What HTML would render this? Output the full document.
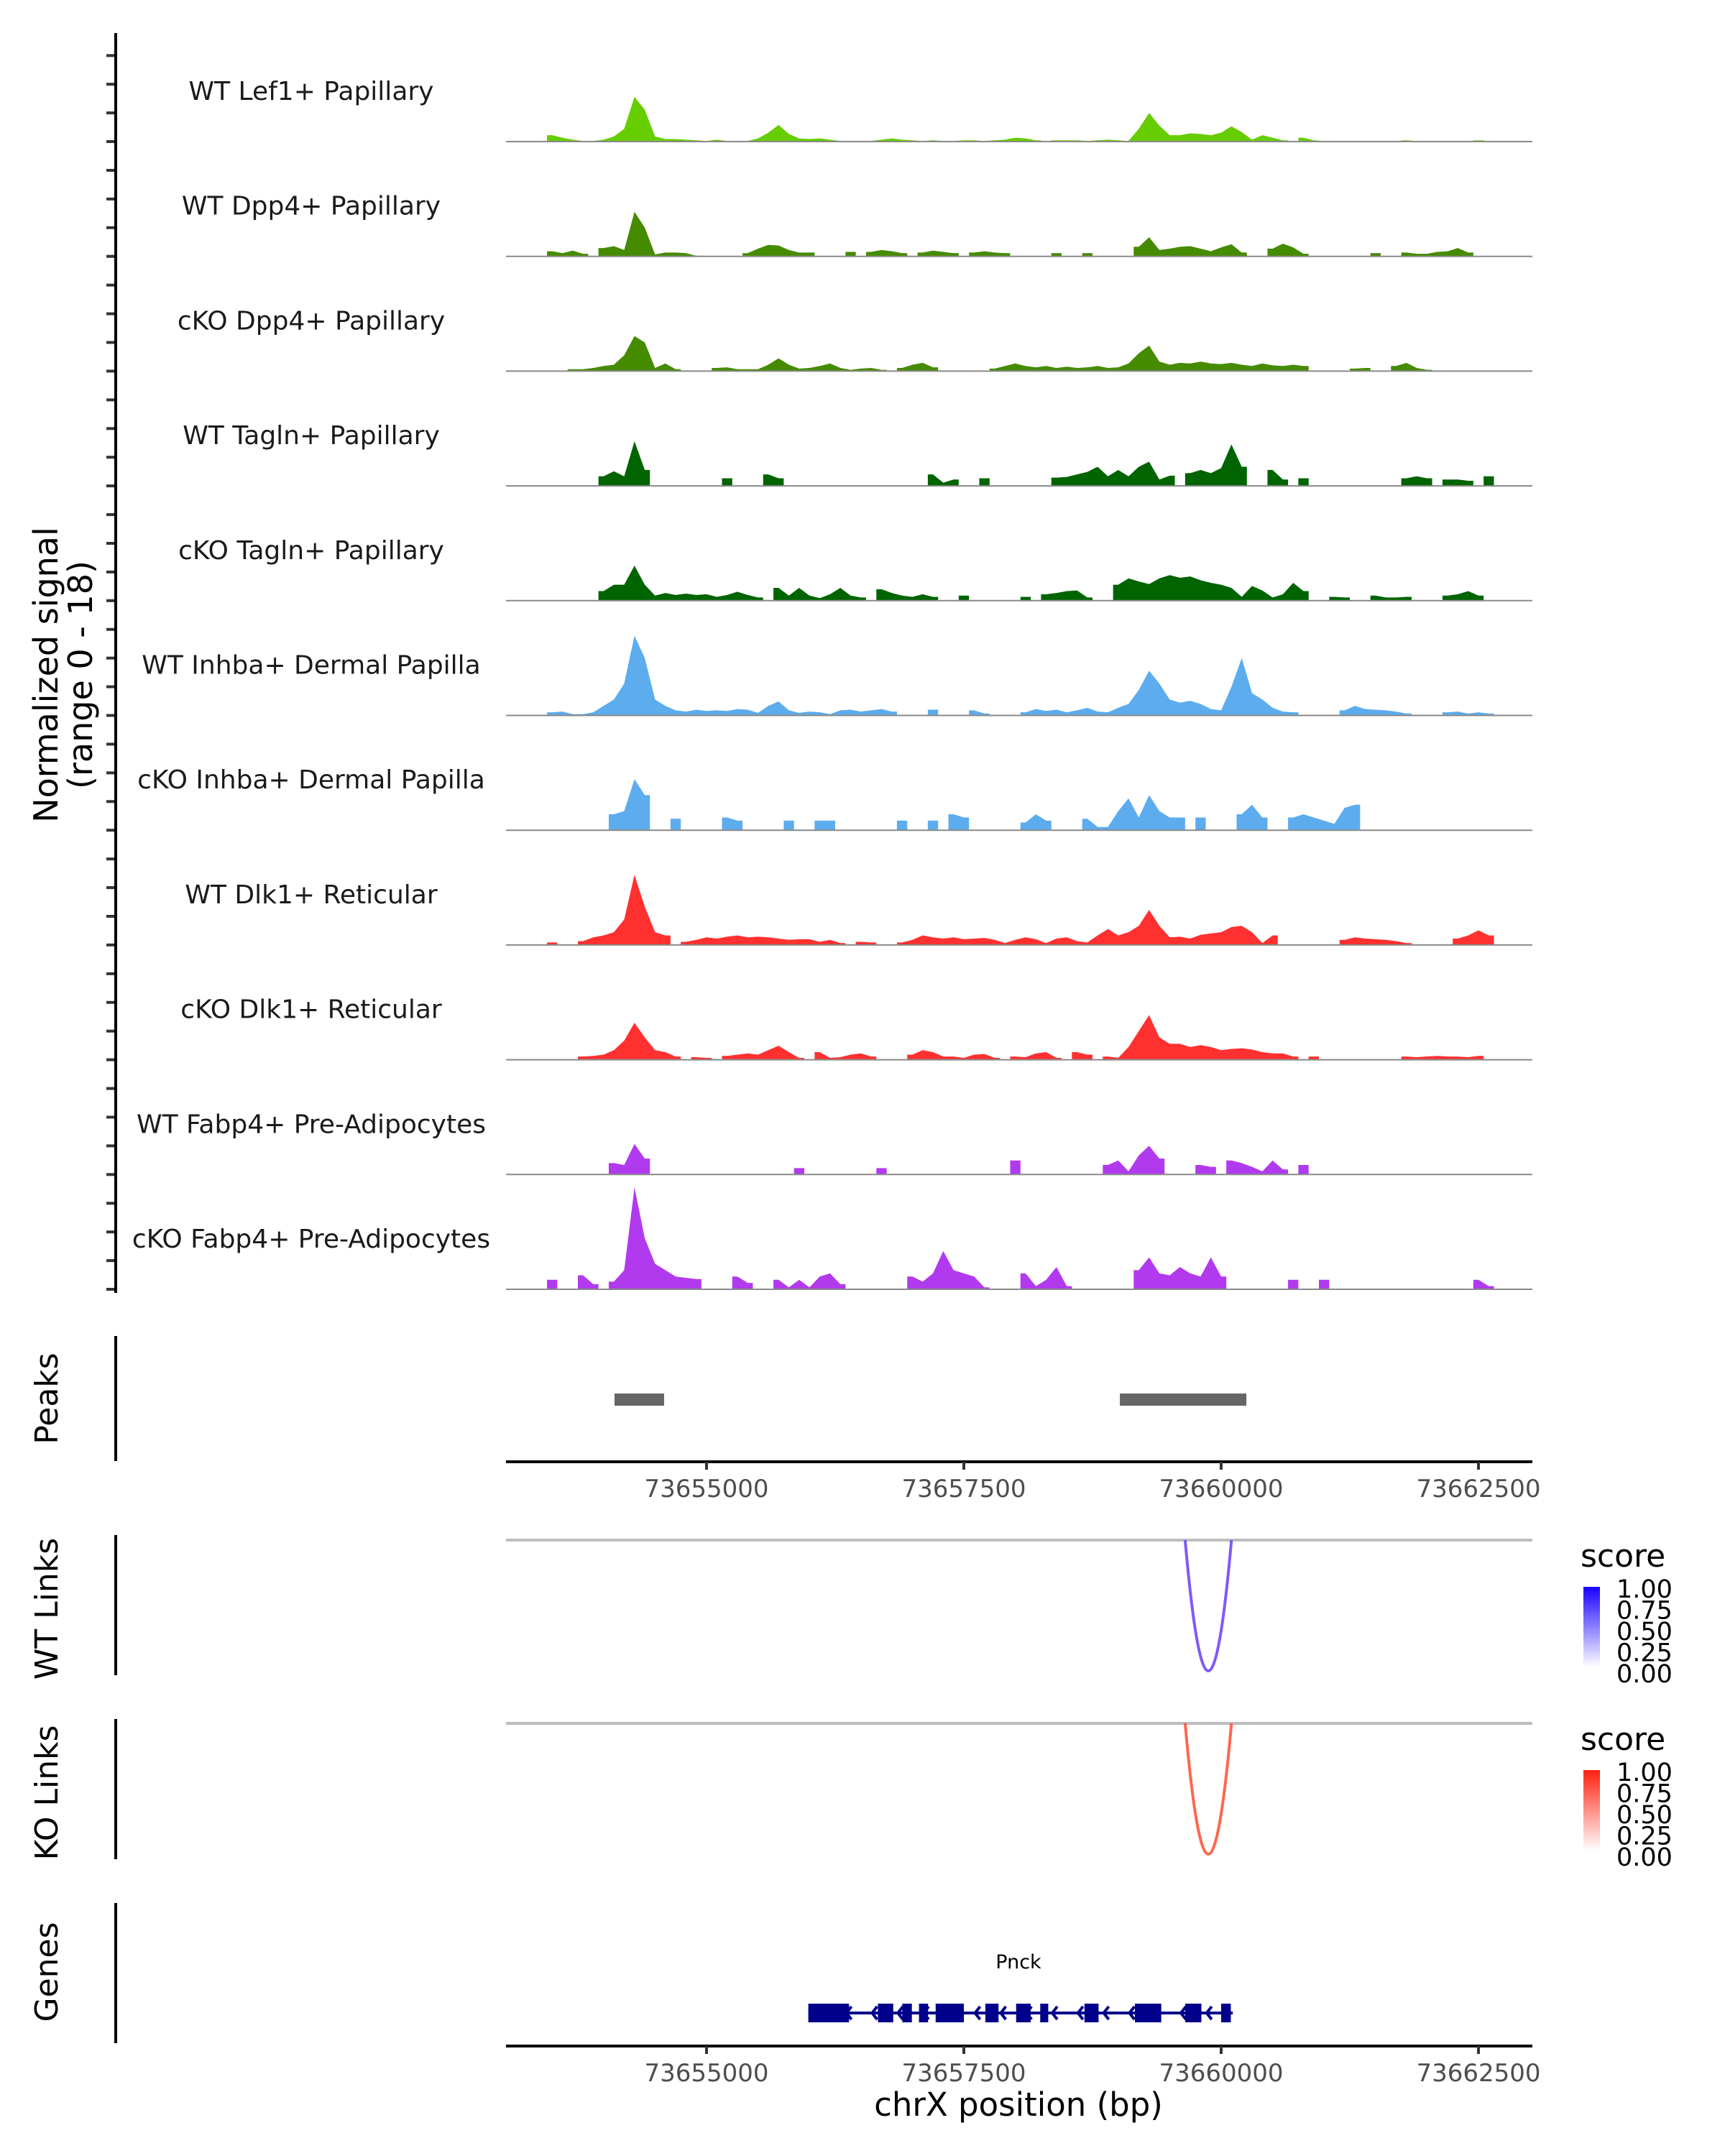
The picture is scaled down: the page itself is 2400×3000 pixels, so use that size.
<!DOCTYPE html>
<html><head><meta charset="utf-8"><style>
html,body{margin:0;padding:0;background:#fff}
svg{display:block}
text{font-family:"DejaVu Sans","Liberation Sans",sans-serif}
</style></head><body>
<svg id="chart" width="2400" height="3000" viewBox="0 0 2400 3000">
<g id="tracks"></g>
<g id="axes"></g>
</svg>
<script>
// ---------- data ----------
const binStart = 73653050;
const binSize = 100;
const trackNames = ["WT Lef1+ Papillary","WT Dpp4+ Papillary","cKO Dpp4+ Papillary","WT Tagln+ Papillary","cKO Tagln+ Papillary","WT Inhba+ Dermal Papilla","cKO Inhba+ Dermal Papilla","WT Dlk1+ Reticular","cKO Dlk1+ Reticular","WT Fabp4+ Pre-Adipocytes","cKO Fabp4+ Pre-Adipocytes"];
const trackColors = ["#66cd00","#458b00","#458b00","#006400","#006400","#5cacee","#5cacee","#ff3030","#ff3030","#b23aee","#b23aee"];
const sigLef1WT = [0,0,0,0,1.0,0.6,0.3,0.1,0.1,0.3,0.8,2.0,7,5,0.8,0.4,0.4,0.3,0.2,0.1,0.3,0.1,0,0.1,0.5,1.4,2.6,1.2,0.5,0.4,0.5,0.3,0.1,0,0,0.1,0.3,0.5,0.3,0.2,0.1,0.2,0.1,0.1,0.2,0.2,0.1,0.2,0.3,0.6,0.5,0.2,0,0.2,0.2,0.2,0.1,0.2,0.3,0.2,0.1,2.0,4.5,2.5,1.0,1.0,1.3,1.2,1.0,1.4,2.4,1.5,0.3,1.0,0.6,0.2,0,0.6,0.2,0.1,0.1,0,0,0,0,0,0,0.2,0.1,0,0,0,0,0,0.2,0,0];
const sigDpp4WT = [0,0,0,0,0.8,0.5,0.9,0.4,0,1.3,1.6,1.0,7.0,4.5,0.3,0.6,0.6,0.5,0.1,0,0,0,0,0.5,1.2,1.8,1.7,1.0,0.6,0.6,0,0,0,0.7,0,0.7,1.0,0.8,0.5,0,0.6,0.9,0.7,0.5,0,0.6,0.8,0.6,0.5,0,0,0,0,0.5,0,0,0.5,0,0,0,0,1.5,3.0,1.0,1.2,1.5,1.6,1.2,0.8,1.4,1.9,0.6,0,0,1.2,2.0,1.4,0.4,0,0,0,0,0,0,0.5,0,0,0.6,0.4,0.4,0.7,0.8,1.3,0.6,0,0,0];
const sigDpp4KO = [0,0,0,0,0,0,0.3,0.3,0.5,0.8,1.0,2.5,5.5,4.5,0.5,1.2,0.3,0,0,0,0.5,0.6,0.3,0.3,0.3,1.0,2.0,1.0,0.4,0.5,0.8,1.2,0.5,0.2,0.4,0.5,0.2,0,0.5,1.0,1.3,0.6,0,0,0,0,0,0.4,0.8,1.2,0.8,0.6,0.8,0.5,0.7,0.5,0.6,0.8,0.5,0.6,1.2,2.8,4.0,1.5,1.0,1.3,1.2,1.5,1.2,1.1,1.3,1.0,0.8,1.2,0.9,0.8,1.0,0.8,0,0,0,0,0.4,0.5,0,0,0.8,1.3,0.5,0.2,0,0,0,0,0,0,0];
const sigTaglnWT = [0,0,0,0,0,0,0,0,0,1.5,2.3,1.5,7.0,2.5,0,0,0,0,0,0,0,1.2,0,0,0,1.8,1.2,0,0,0,0,0,0,0,0,0,0,0,0,0,0,1.8,0.5,1.0,0,0,1.2,0,0,0,0,0,0,1.3,1.4,1.8,2.2,3.0,1.5,2.5,1.5,3.0,3.8,1.0,1.6,0,2.0,2.5,2.0,2.8,6.5,3.0,0,0,2.5,1.0,0,1.2,0,0,0,0,0,0,0,0,0,1.2,1.5,1.2,0,1.0,1.0,0.8,0,1.5,0];
const sigTaglnKO = [0,0,0,0,0,0,0,0,0,1.5,2.5,2.5,5.5,2.5,0.8,1.2,0.9,1.1,0.9,1.0,0.6,0.9,1.4,0.9,0.5,0,2.0,0.8,2.0,0.8,0.4,1.0,2.0,0.8,0.5,0,1.8,1.2,0.8,0.6,1.0,0.6,0,0,0.8,0,0,0,0,0,0.6,0,1.0,1.2,1.5,1.6,0.5,0,0,2.5,3.5,3.0,2.6,3.5,4.0,3.6,3.8,3.2,2.8,2.5,2.0,0.6,2.3,1.6,0.5,1.0,2.8,1.5,0,0,0.6,0.5,0,0,0.8,0.5,0.5,0.6,0,0,0,0.8,1.0,1.5,0.8,0,0];
const sigInhbaWT = [0,0,0,0,0.5,0.6,0.2,0.2,0.5,1.5,2.5,5.0,12.5,9,2.5,1.5,0.8,0.6,0.9,0.7,0.8,0.7,1.0,0.9,0.4,1.5,2.2,0.8,0.4,0.6,0.5,0.2,0.8,0.9,0.6,0.8,1.0,0.6,0,0,0,0.9,0,0,0,0.8,0.3,0,0,0,0.5,1.0,0.7,0.9,0.5,0.8,1.2,0.6,0.5,1.2,1.8,4.0,7.0,5.0,2.5,2.0,2.3,1.8,1.0,0.8,4.5,9.0,3.5,2.5,1.2,0.6,0.5,0,0,0,0,0.8,1.5,1.0,0.9,0.8,0.6,0.3,0,0,0,0.5,0.6,0.3,0.5,0.3,0];
const sigInhbaKO = [0,0,0,0,0,0,0,0,0,0,2.5,3.0,8.0,5.5,0,0,1.8,0,0,0,0,2.0,1.5,0,0,0,0,1.5,0,0,1.5,1.5,0,0,0,0,0,0,1.5,0,0,1.5,0,2.5,2.0,0,0,0,0,0,1.2,2.5,1.5,0,0,0,1.8,0.5,0.5,3.0,5.0,2.0,5.5,3.0,2.0,2.0,0,2.0,0,0,0,2.5,4.0,2.0,0,0,2.0,2.5,2.0,1.5,1.0,3.5,4.0,0,0,0,0,0,0,0,0,0,0,0,0,0,0];
const sigDlk1WT = [0,0,0,0,0.4,0,0,0.6,1.2,1.5,2.0,4.0,11.0,6.0,2.0,1.5,0,0.5,0.8,1.2,1.0,1.3,1.5,1.2,1.3,1.2,1.0,0.8,0.9,0.9,0.5,0.8,0.3,0,0.5,0.4,0,0,0.4,0.8,1.5,1.2,1.0,1.2,0.9,1.0,1.1,0.8,0.3,0.8,1.2,0.9,0.3,1.0,1.2,0.6,0.4,1.5,2.5,1.5,2.0,3.0,5.5,3.0,1.2,1.3,1.0,1.6,1.8,2.0,2.8,3.0,2.0,0.3,1.5,0,0,0,0,0,0,0.8,1.2,1.0,0.9,0.8,0.6,0.3,0,0,0,0,1.0,1.5,2.3,1.5,0];
const sigDlk1KO = [0,0,0,0,0,0,0,0.5,0.6,0.8,1.5,3.0,5.8,3.5,1.5,1.2,0.5,0,0.4,0.3,0,0.6,0.8,1.0,0.8,1.5,2.2,1.2,0.3,0,1.2,0.3,0.4,0.8,1.0,0.5,0,0,0,0.8,1.5,1.2,0.5,0.5,0.3,0.8,0.9,0.3,0,0.5,0.4,1.0,1.2,0.3,0,1.2,0.8,0,0.5,0.3,2.0,4.5,7.0,3.5,2.5,2.5,2.0,2.3,2.0,1.5,1.7,1.8,1.6,1.2,1.0,1.0,0.5,0,0.5,0,0,0,0,0,0,0,0,0.5,0.4,0.5,0.6,0.5,0.5,0.4,0.6,0,0];
const sigFabp4WT = [0,0,0,0,0,0,0,0,0,0,1.8,1.5,4.8,2.5,0,0,0,0,0,0,0,0,0,0,0,0,0,0,1.0,0,0,0,0,0,0,0,1.0,0,0,0,0,0,0,0,0,0,0,0,0,2.2,0,0,0,0,0,0,0,0,1.5,2.2,0.5,3.0,4.5,2.5,0,0,0,1.5,1.2,0,2.2,1.8,1.2,0.5,2.2,0.8,0,1.5,0,0,0,0,0,0,0,0,0,0,0,0,0,0,0,0,0,0,0];
const sigFabp4KO = [0,0,0,0,1.5,0,0,2.2,0.8,0,1.2,3.0,16.0,8.0,4.0,3.0,2.0,1.8,1.6,0,0,0,2.0,1.0,0,0,1.5,0.3,1.5,0.3,2.0,2.5,0.8,0,0,0,0,0,0,2.0,1.2,2.5,6.0,3.0,2.5,2.0,0.3,0,0,0,2.5,0.5,1.5,3.5,0.5,0,0,0,0,0,0,3.0,5.0,2.5,2.2,3.5,2.5,2.0,5.0,2.0,0,0,0,0,0,0,1.5,0,0,1.5,0,0,0,0,0,0,0,0,0,0,0,0,0,0,1.5,0.5,0];
const trackSignals = [sigLef1WT,sigDpp4WT,sigDpp4KO,sigTaglnWT,sigTaglnKO,sigInhbaWT,sigInhbaKO,sigDlk1WT,sigDlk1KO,sigFabp4WT,sigFabp4KO];
const peakStarts = [73654106, 73659016];
const peakEnds = [73654588, 73660245];
const wtLinkStarts = [73659650];
const wtLinkEnds = [73660100];
const wtLinkScores = [0.75];
const koLinkStarts = [73659650];
const koLinkEnds = [73660100];
const koLinkScores = [0.75];
const exonStarts = [73655989,73656665,73656902,73657064,73657226,73657709,73658008,73658242,73658672,73659162,73659651,73660000];
const exonEnds = [73656384,73656814,73656995,73657152,73657500,73657837,73658149,73658320,73658809,73659418,73659808,73660094];
const geneStart = 73655989, geneEnd = 73660113;
const xTicks = [73655000, 73657500, 73660000, 73662500];
const legendLabels = ["1.00","0.75","0.50","0.25","0.00"];

// ---------- scales ----------
const NS = "http://www.w3.org/2000/svg";
const plotL = 704, plotR = 2132;
const xs = bp => 1341 + (bp - 73657500) * 0.1432;
const trackBase = i => 197 + 159.7 * i;
const yUnit = 159.7 / 18;
function el(tag, attrs, parent){ const e=document.createElementNS(NS,tag); for(const k in attrs) e.setAttribute(k,attrs[k]); parent.appendChild(e); return e; }
const tracks = document.getElementById('tracks');
const axes = document.getElementById('axes');

// coverage tracks (area through bin centres, flat zero gaps)
trackSignals.forEach((sig, t) => {
  const base = trackBase(t);
  let d = '';
  let open = false;
  sig.forEach((v, i) => {
    const xc = xs(binStart + (i+0.5)*binSize);
    const hw = binSize*0.1432*0.5;
    if (v > 0) {
      const y = base - v*yUnit;
      if (!open) { d += ` M${xc-hw},${base} L${xc-hw},${y}`; open = true; }
      d += ` L${xc},${y}`;
      const nx = sig[i+1] || 0;
      if (nx <= 0) { d += ` L${xc+hw},${y} L${xc+hw},${base} Z`; open = false; }
    }
  });
  const p = el('path',{d:d, fill:trackColors[t], stroke:'none'}, tracks);
  
  
  const bl = el('line',{x1:plotL,x2:plotR,y1:base,y2:base,stroke:'#8a8a8a','stroke-width':2}, tracks);
  
  
  const lab = el('text',{x:433,y:base-58,'font-size':36,'text-anchor':'middle',fill:'#1a1a1a'}, tracks);
  lab.textContent = trackNames[t];
  
  
  for (let k=0;k<4;k++){
    const ty = base - k*39.9;
    const tk = el('line',{x1:148,x2:160,y1:ty,y2:ty,stroke:'#333','stroke-width':4}, axes);
    
    
  }
});
function vline(y1,y2,name){ const l=el('line',{x1:161,x2:161,y1:y1,y2:y2,stroke:'#000','stroke-width':4},axes);   }
vline(46,1799,'y-axis-line');
function rotText(x,y,txt,name,size){ const t=el('text',{x:x,y:y,'font-size':size||44,'text-anchor':'middle',fill:'#000',transform:`rotate(-90 ${x} ${y})`},axes); t.textContent=txt;   return t;}
rotText(80,939,'Normalized signal','y-axis-title',46);
rotText(128,939,'(range 0 - 18)','y-axis-subtitle',46);

// peaks
vline(1859,2033,'peaks-axis-line');
rotText(80,1946,'Peaks','peaks-label');
peakStarts.forEach((s,i)=>{
  const r = el('rect',{x:xs(s),y:1939,width:xs(peakEnds[i])-xs(s),height:17,fill:'#666'},axes);
  
  
});
function xAxis(y,name){
  const l=el('line',{x1:plotL,x2:plotR,y1:y,y2:y,stroke:'#000','stroke-width':4},axes);
  
  
  xTicks.forEach(v=>{
    const tk=el('line',{x1:xs(v),x2:xs(v),y1:y,y2:y+11,stroke:'#333','stroke-width':4},axes);
    
    
    const tl=el('text',{x:xs(v),y:y+49,'font-size':34,'text-anchor':'middle',fill:'#4d4d4d'},axes);
    tl.textContent=v;
    
    
  });
}
xAxis(2034,'peaks-x-axis');

// links
function linkPanel(top, axTop, axBot, label, starts, ends, scores, color, gradId, c1){
  vline(axTop,axBot,label.replace(' ','-').toLowerCase()+'-axis-line');
  rotText(80,(axTop+axBot)/2+5,label,label.replace(' ','-').toLowerCase()+'-label');
  const g=el('line',{x1:plotL,x2:plotR,y1:top,y2:top,stroke:'#bdbdbd','stroke-width':4},axes);
  
  
  starts.forEach((s,i)=>{
    const x1=xs(s), x2=xs(ends[i]), depth=182;
    const p=el('path',{d:`M${x1},${top} Q${(x1+x2)/2},${top+2*depth} ${x2},${top}`,fill:'none',stroke:color,'stroke-width':4,opacity:0.4+0.6*scores[i]},axes);
    
    
  });
  const lt=el('text',{x:2199,y:top+37,'font-size':44,fill:'#000'},axes);
  lt.textContent='score';
  
  
  const defs=el('defs',{},axes);
  const lg=el('linearGradient',{id:gradId,x1:0,y1:0,x2:0,y2:1},defs);
  el('stop',{offset:0,'stop-color':c1},lg);
  el('stop',{offset:1,'stop-color':'#ffffff'},lg);
  const bar=el('rect',{x:2203,y:top+65,width:23,height:112,fill:`url(#${gradId})`},axes);
  
  
  legendLabels.forEach((s,i)=>{
    const t=el('text',{x:2249,y:top+80+i*29.5,'font-size':35,fill:'#000'},axes);
    t.textContent=s;
    
    
  });
}
linkPanel(2143,2136,2331,'WT Links',wtLinkStarts,wtLinkEnds,wtLinkScores,'#6a3cf5','gradWT','#1a00ff');
linkPanel(2398,2392,2587,'KO Links',koLinkStarts,koLinkEnds,koLinkScores,'#ff4b30','gradKO','#ff2010');

// genes
vline(2648,2843,'genes-axis-line');
rotText(80,2744,'Genes','genes-label');
const gy=2801;
const gl=el('line',{x1:xs(geneStart),x2:xs(geneEnd),y1:gy,y2:gy,stroke:'#00008b','stroke-width':4},axes);


for(let b=geneStart+120;b<geneEnd-40;b+=250){
  const ax=xs(b);
  const ch=el('path',{d:`M${ax+7},${gy-9} L${ax},${gy} L${ax+7},${gy+9}`,fill:'none',stroke:'#00008b','stroke-width':4},axes);
  
  
}
exonStarts.forEach((s,i)=>{
  const r=el('rect',{x:xs(s),y:gy-13,width:xs(exonEnds[i])-xs(s),height:26,fill:'#00008b'},axes);
  
  
});
const gn=el('text',{x:1417,y:2739,'font-size':27,'text-anchor':'middle',fill:'#000'},axes);
gn.textContent='Pnck';


xAxis(2847,'genes-x-axis');
const xt=el('text',{x:1417,y:2944,'font-size':45,'text-anchor':'middle',fill:'#000'},axes);
xt.textContent='chrX position (bp)';


</script>
</body></html>
